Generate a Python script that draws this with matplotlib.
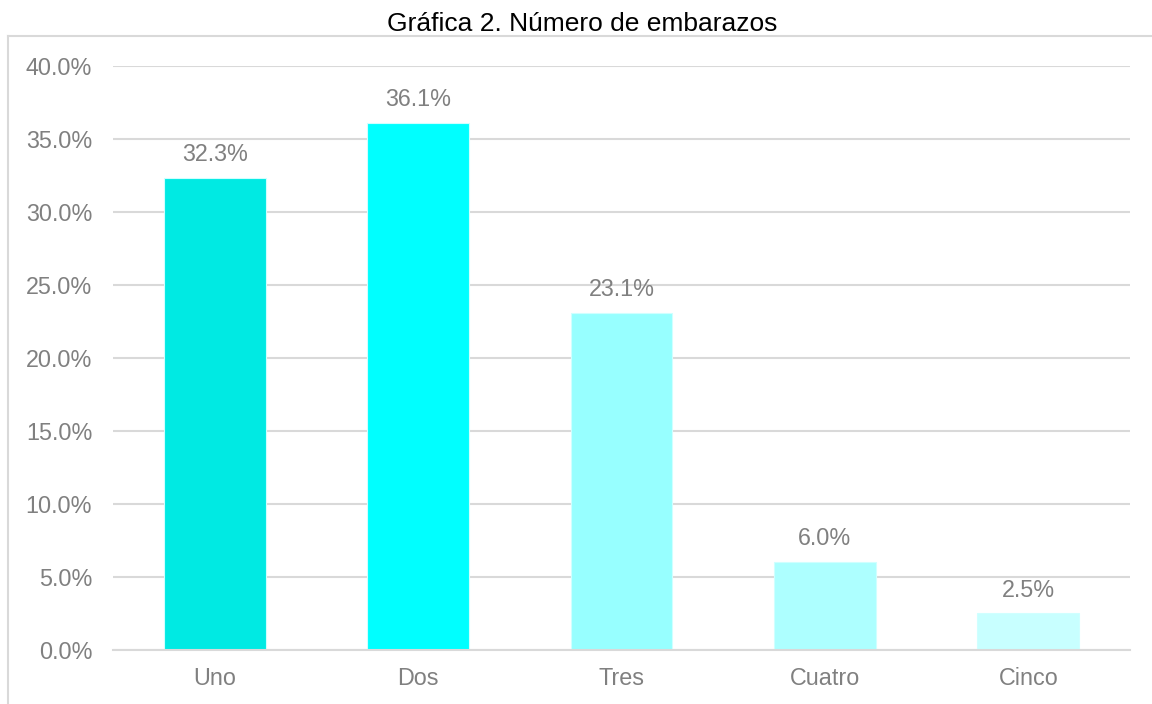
import matplotlib
matplotlib.use("Agg")
import matplotlib.pyplot as plt
from matplotlib.lines import Line2D
from matplotlib.ticker import FuncFormatter

categories = ["Uno", "Dos", "Tres", "Cuatro", "Cinco"]
values = [32.3, 36.1, 23.1, 6.0, 2.5]
bar_colors = ["#00EAE3", "#00FFFF", "#97FFFF", "#ADFFFF", "#C8FFFF"]
title = "Gráfica 2. Número de embarazos"

plt.rcParams['font.family'] = ['Liberation Sans', 'DejaVu Sans']
grey = "#808080"
gridc = "#D9D9D9"

fig = plt.figure(figsize=(11.52, 7.04), dpi=100)
ax = fig.add_axes([113/1152, 1-650/704, (1130-113)/1152, (650-65.7)/704])

x = list(range(len(categories)))
ax.bar(x, values, width=0.5, color=bar_colors, edgecolor="#D0FFFF", linewidth=0.8, zorder=3)
for xi, v in zip(x, values):
    ax.annotate(f"{v:.1f}%", (xi, v), xytext=(0, 8.6), textcoords="offset points",
                ha="center", va="bottom", fontsize=16.8, color=grey)

ax.set_xlim(-0.5, len(categories) - 0.5)
ax.set_ylim(0, 40)
ax.set_yticks([0, 5, 10, 15, 20, 25, 30, 35, 40])
ax.yaxis.set_major_formatter(FuncFormatter(lambda v, p: f"{v:.1f}%"))
ax.set_xticks(x)
ax.set_xticklabels(categories)
ax.tick_params(axis="y", length=0, pad=15, labelsize=16.8, labelcolor=grey)
ax.tick_params(axis="x", length=0, pad=12.5, labelsize=16.8, labelcolor=grey)
ax.grid(axis="y", color=gridc, linewidth=1.5, zorder=0)
for s in ["left", "right", "top"]:
    ax.spines[s].set_visible(False)
ax.spines["bottom"].set_color(gridc)
ax.spines["bottom"].set_linewidth(1.5)
ax.spines["bottom"].set_zorder(4)

# outer chart frame (left and top edges visible)
fig.add_artist(Line2D([7.5/1152, 7.5/1152], [0, 1-36/704], transform=fig.transFigure, color=gridc, linewidth=1.5))
fig.add_artist(Line2D([7.5/1152, 1], [1-36/704, 1-36/704], transform=fig.transFigure, color=gridc, linewidth=1.5))

fig.text(582/1152, 1-31/704, title, ha="center", va="baseline", fontsize=19, color="black")

fig.savefig("out.png", dpi=100)
